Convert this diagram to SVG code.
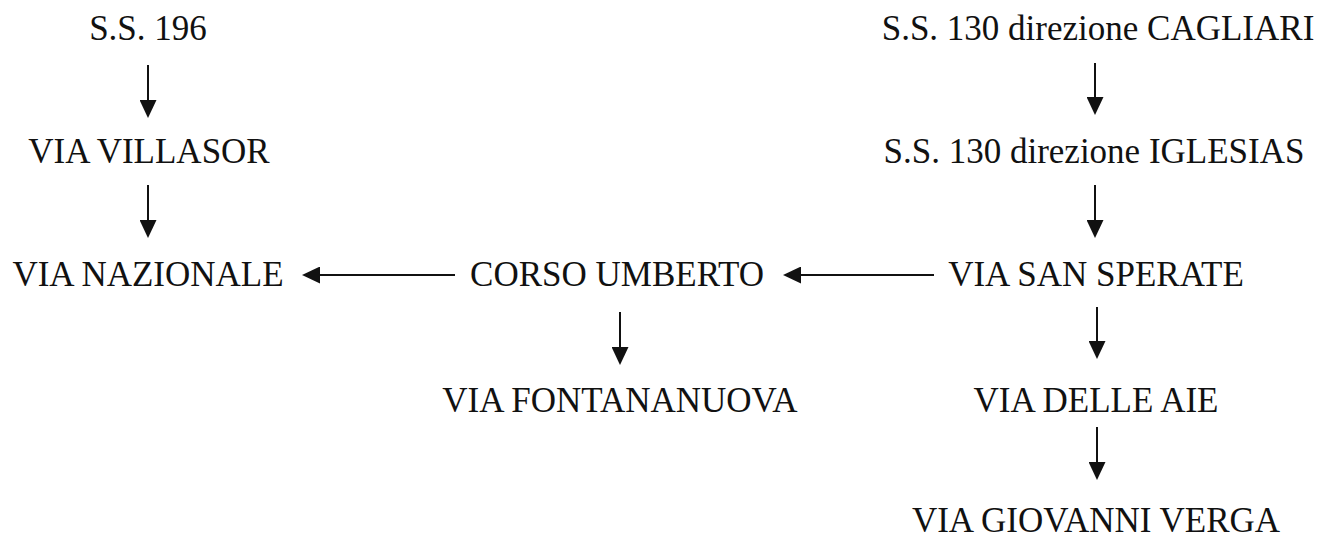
<svg xmlns="http://www.w3.org/2000/svg" width="1331" height="540" viewBox="0 0 1331 540">
<style>
text{font-family:"Liberation Serif","Times New Roman",serif;font-size:35px;fill:#111;text-anchor:middle}
.c{stroke:#111;stroke-width:2;fill:none}
</style>
<defs>
<marker id="ah" viewBox="0 0 18 17" refX="14" refY="8.5" markerWidth="18" markerHeight="17" markerUnits="userSpaceOnUse" orient="auto">
<path d="M0,0 L18,8.5 L0,17 Z" fill="#111"/>
</marker>
</defs>
<rect width="1331" height="540" fill="#fff"/>
<g id="nodes">
<g id="n-ss196"><text x="148" y="40">S.S. 196</text></g>
<g id="n-villasor"><text x="149" y="163">VIA VILLASOR</text></g>
<g id="n-nazionale"><text x="148" y="286">VIA NAZIONALE</text></g>
<g id="n-corso"><text x="617" y="286">CORSO UMBERTO</text></g>
<g id="n-fontananuova"><text x="620" y="412">VIA FONTANANUOVA</text></g>
<g id="n-cagliari"><text x="1098" y="40">S.S. 130 direzione CAGLIARI</text></g>
<g id="n-iglesias"><text x="1094" y="163">S.S. 130 direzione IGLESIAS</text></g>
<g id="n-sansperate"><text x="1096" y="286">VIA SAN SPERATE</text></g>
<g id="n-aie"><text x="1096" y="412">VIA DELLE AIE</text></g>
<g id="n-verga"><text x="1096" y="532">VIA GIOVANNI VERGA</text></g>
</g>
<g id="connectors">
<line class="c" x1="148" y1="65" x2="148" y2="114" marker-end="url(#ah)"/>
<line class="c" x1="148" y1="185" x2="148" y2="234" marker-end="url(#ah)"/>
<line class="c" x1="455" y1="275" x2="306" y2="275" marker-end="url(#ah)"/>
<line class="c" x1="934" y1="275" x2="787" y2="275" marker-end="url(#ah)"/>
<line class="c" x1="620" y1="312" x2="620" y2="361" marker-end="url(#ah)"/>
<line class="c" x1="1095" y1="63" x2="1095" y2="111" marker-end="url(#ah)"/>
<line class="c" x1="1095" y1="185" x2="1095" y2="234" marker-end="url(#ah)"/>
<line class="c" x1="1097" y1="307" x2="1097" y2="355" marker-end="url(#ah)"/>
<line class="c" x1="1097" y1="427" x2="1097" y2="476" marker-end="url(#ah)"/>
</g>
</svg>
